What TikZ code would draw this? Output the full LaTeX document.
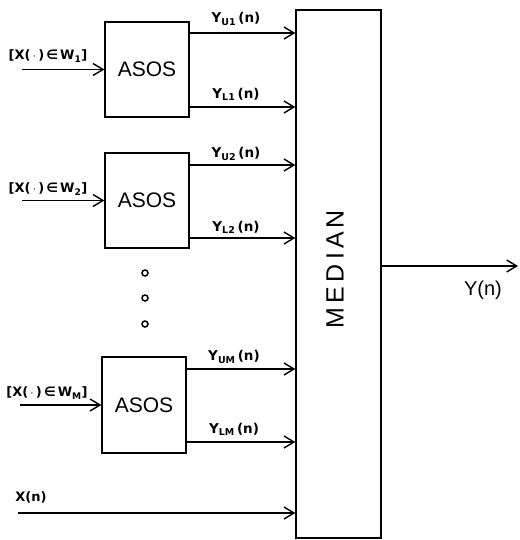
\documentclass[tikz,border=0pt]{standalone}
\usepackage{fontspec}
\setmainfont{Liberation Sans}
\newfontfamily\lblfont{DejaVu Sans}
\usetikzlibrary{arrows.meta}
\begin{document}
\begin{tikzpicture}[x=1pt,y=-1pt,
  line width=1.6pt,
  blk/.style={draw,line width=1.3pt,inner sep=0pt},
  sig/.style={-{Straight Barb[length=10pt,width=12pt,line width=1.4pt]}},
  lbl/.style={font=\lblfont\fontsize{13}{15}\selectfont\bfseries,inner sep=0pt},
  sublbl/.style={font=\lblfont\fontsize{13.5}{15}\selectfont\bfseries,inner sep=0pt},
  dot/.style={draw,circle,line width=1.5pt,minimum size=6pt,inner sep=0pt}]
\useasboundingbox (0,0) rectangle (519,540);
% blocks
\node[blk,minimum width=84pt,minimum height=95pt,font=\fontsize{21}{24}\selectfont] (a1) at (147,69.5) {ASOS};
\node[blk,minimum width=84pt,minimum height=95pt,font=\fontsize{21}{24}\selectfont] (a2) at (147,200.5) {ASOS};
\node[blk,minimum width=84pt,minimum height=96pt,font=\fontsize{21}{24}\selectfont] (a3) at (144,405) {ASOS};
\node[blk,minimum width=85pt,minimum height=528pt] (med) at (338.5,274) {};
\node[rotate=90,font=\fontsize{25}{28}\selectfont,inner sep=0pt] (medtxt) at (335,269) {M\,E\,D\,I\,A\,N};
% inputs
\coordinate (i1) at (22,69.5);
\coordinate (i2) at (22,200.5);
\coordinate (i3) at (20,405);
\coordinate (ix) at (18,513);
\draw[sig] (i1) -- (a1.west);
\draw[sig] (i2) -- (a2.west);
\draw[sig] (i3) -- (a3.west);
\draw[sig] (ix) -- (ix -| med.west);
\node[lbl] (l1) at (48,56) {[X(\,$\cdot$\,)\,∈\,W\textsubscript{1}]};
\node[lbl] (l2) at (48,189) {[X(\,$\cdot$\,)\,∈\,W\textsubscript{2}]};
\node[lbl] (l3) at (47,393) {[X(\,$\cdot$\,)\,∈\,W\textsubscript{M}]};
\node[lbl] (lx) at (31,497) {X(n)};
% outputs of ASOS blocks
\coordinate (u1) at (189,33);
\coordinate (d1) at (189,107);
\coordinate (u2) at (189,165);
\coordinate (d2) at (189,238);
\coordinate (u3) at (186,369);
\coordinate (d3) at (186,442);
\draw[sig] (u1) -- (u1 -| med.west);
\draw[sig] (d1) -- (d1 -| med.west);
\draw[sig] (u2) -- (u2 -| med.west);
\draw[sig] (d2) -- (d2 -| med.west);
\draw[sig] (u3) -- (u3 -| med.west);
\draw[sig] (d3) -- (d3 -| med.west);
\node[sublbl] (yu1) at (236,19) {Y\textsubscript{U1}\,(n)};
\node[sublbl] (yl1) at (236,94) {Y\textsubscript{L1}\,(n)};
\node[sublbl] (yu2) at (236,154) {Y\textsubscript{U2}\,(n)};
\node[sublbl] (yl2) at (236,227) {Y\textsubscript{L2}\,(n)};
\node[sublbl] (yu3) at (234,357) {Y\textsubscript{UM}\,(n)};
\node[sublbl] (yl3) at (234,429) {Y\textsubscript{LM}\,(n)};
% dots
\node[dot] (c1) at (145,273) {};
\node[dot] (c2) at (145,298) {};
\node[dot] (c3) at (145,324) {};
% output
\coordinate (yo) at (518,266);
\draw[sig] (med.east |- yo) -- (yo);
\node[font=\fontsize{20}{22}\selectfont,inner sep=0pt] (yn) at (483,290) {Y(n)};
\end{tikzpicture}
\end{document}
